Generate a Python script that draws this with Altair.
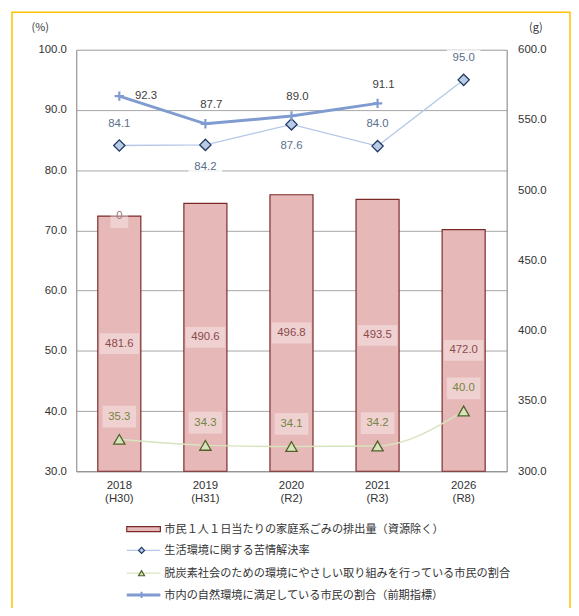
import altair as alt
import pandas as pd

# ---------------- data ----------------
years = ["2018", "2019", "2020", "2021", "2026"]
eras = ["(H30)", "(H31)", "(R2)", "(R3)", "(R8)"]
waste_g = [481.6, 490.6, 496.8, 493.5, 472.0]          # 市民1人1日当たりの家庭系ごみの排出量 (g, right axis)
complaint_pct = [84.1, 84.2, 87.6, 84.0, 95.0]         # 生活環境に関する苦情解決率 (%)
eco_pct = [35.3, 34.3, 34.1, 34.2, 40.0]               # 脱炭素社会...市民の割合 (%)
nature_pct = [92.3, 87.7, 89.0, 91.1]                  # 市内の自然環境に満足している市民の割合 (2018-2021)
complaint_label_below = ["2019", "2020"]
stray_label = "0"
left_ticks = [30, 40, 50, 60, 70, 80, 90, 100]
right_ticks = [300, 350, 400, 450, 500, 550, 600]
legend_labels = [
    "市民１人１日当たりの家庭系ごみの排出量（資源除く）",
    "生活環境に関する苦情解決率",
    "脱炭素社会のための環境にやさしい取り組みを行っている市民の割合",
    "市内の自然環境に満足している市民の割合（前期指標）",
]

cats = [f"{y}\n{e}" for y, e in zip(years, eras)]
df = pd.DataFrame({"cat": cats, "year": years, "waste": waste_g,
                   "complaint": complaint_pct, "eco": eco_pct})
df_nat = pd.DataFrame({"cat": cats[:4], "year": years[:4], "nature": nature_pct})
one = pd.DataFrame({"k": [0]})

# ---------------- styles ----------------
W, H = 435, 426
PAD = {"left": 69, "top": 39, "right": 65, "bottom": 135}
FONT = "Noto Sans CJK JP"
NUM = "Liberation Sans"
NS = 11.5
TXT = "#333333"
BAR_FILL = "#E6B9B8"
BAR_STROKE = "#7B2A2A"
BLUE_LINE = "#B4C7E7"
BLUE_MARK = "#B8CCE4"
NAVY = "#1F3864"
GREEN_LINE = "#D7E4BD"
GREEN_DARK = "#4F6228"
NAT = "#7F9BCF"

def box_path(w, h):
    r = h / w
    return f"M-1,-{r:.3f}H1V{r:.3f}H-1Z", w * w

x_enc = alt.X("cat:N", sort=cats,
              scale=alt.Scale(paddingInner=0.5, paddingOuter=0.25),
              axis=alt.Axis(title=None, labelExpr="split(datum.label, '\\n')",
                            labelAngle=0, labelFont=NUM, labelFontSize=NS,
                            labelColor=TXT, labelPadding=8, labelLineHeight=13.5,
                            ticks=False, tickSize=0, domainColor="#8C8C8C",
                            grid=False))

left_axis = alt.Axis(orient="left", values=left_ticks, format=".1f", title="(%)",
                     titleAngle=0, titleX=-37, titleY=-22, titleAlign="center",
                     titleBaseline="middle", titleFontWeight="normal",
                     titleFontSize=11, titleColor=TXT, titleFont=FONT,
                     grid=True, gridColor="#A6A6A6", domainColor="#8C8C8C",
                     ticks=False, tickSize=0, labelPadding=10, labelFontSize=NS,
                     labelColor=TXT, labelFont=NUM)
right_axis = alt.Axis(orient="right", values=right_ticks, format=".1f", title="(g)",
                      titleAngle=0, titleX=29, titleY=-22, titleAlign="center",
                      titleBaseline="middle", titleFontWeight="normal",
                      titleFontSize=11, titleColor=TXT, titleFont=FONT,
                      grid=False, domainColor="#8C8C8C",
                      ticks=False, tickSize=0, labelPadding=11, labelFontSize=NS,
                      labelColor=TXT, labelFont=NUM)

lsc = alt.Scale(domain=[30, 100])
rsc = alt.Scale(domain=[300, 600])

def ly(field):
    return alt.Y(f"{field}:Q", scale=lsc, axis=left_axis)

def ry(field):
    return alt.Y(f"{field}:Q", scale=rsc, axis=right_axis)

# ---------------- right-axis group (bars) ----------------
base_r = alt.Chart(df)
bars = base_r.mark_bar(fill=BAR_FILL, stroke=BAR_STROKE, strokeWidth=1.2).encode(
    x=x_enc, y=ry("waste"), y2=alt.datum(300))
mid = base_r.transform_calculate(mid="(datum.waste + 300) / 2")
p, s = box_path(40, 21)
bar_box = mid.mark_point(shape=p, size=s, filled=True, fill="white", opacity=0.35,
                         strokeWidth=0).encode(x=x_enc, y=ry("mid"))
bar_txt = mid.mark_text(font=NUM, fontSize=NS, color="#8B4A4A").encode(
    x=x_enc, y=ry("mid"), text=alt.Text("waste:Q", format=".1f"))
first = alt.Chart(df.iloc[[0]])
p0, s0 = box_path(18, 24)
stray_box = first.mark_point(shape=p0, size=s0, filled=True, fill="white", opacity=0.35,
                             strokeWidth=0).encode(x=x_enc, y=ry("waste"))
stray_txt = first.mark_text(font=NUM, fontSize=NS, color="#9A7A7A").encode(
    x=x_enc, y=ry("waste"), text=alt.value(stray_label))
right_group = alt.layer(bars, bar_box, bar_txt, stray_box, stray_txt)

# ---------------- left-axis group (lines) ----------------
base = alt.Chart(df)
eco_line = base.mark_line(color=GREEN_LINE, strokeWidth=1.5, interpolate="monotone").encode(
    x=x_enc, y=ly("eco"))
eco_pts = base.mark_point(shape="triangle-up", filled=True, fill=GREEN_LINE, stroke=GREEN_DARK,
                          strokeWidth=1.3, size=130, opacity=1).encode(x=x_enc, y=ly("eco"))
pg, sg = box_path(34, 22)
eco_box = base.mark_point(shape=pg, size=sg, filled=True, fill="white", opacity=0.35,
                          strokeWidth=0, yOffset=-23).encode(x=x_enc, y=ly("eco"))
eco_txt = base.mark_text(font=NUM, fontSize=NS, color="#76853F", dy=-23).encode(
    x=x_enc, y=ly("eco"), text=alt.Text("eco:Q", format=".1f"))

comp_line = base.mark_line(color=BLUE_LINE, strokeWidth=1.3).encode(x=x_enc, y=ly("complaint"))
comp_pts = base.mark_point(shape="diamond", filled=True, fill=BLUE_MARK, stroke=NAVY,
                           strokeWidth=1.3, size=130, opacity=1).encode(x=x_enc, y=ly("complaint"))
is_below = alt.FieldOneOfPredicate(field="year", oneOf=complaint_label_below)
pb, sb = box_path(34, 17)
comp_box_up = base.transform_filter(~is_below).mark_point(
    shape=pb, size=sb, filled=True, fill="white", opacity=0.8, strokeWidth=0, yOffset=-22
).encode(x=x_enc, y=ly("complaint"))
comp_txt_up = base.transform_filter(~is_below).mark_text(
    font=NUM, fontSize=NS, color="#5A6E8C", dy=-22
).encode(x=x_enc, y=ly("complaint"), text=alt.Text("complaint:Q", format=".1f"))
comp_box_dn = base.transform_filter(is_below).mark_point(
    shape=pb, size=sb, filled=True, fill="white", opacity=0.8, strokeWidth=0, yOffset=22
).encode(x=x_enc, y=ly("complaint"))
comp_txt_dn = base.transform_filter(is_below).mark_text(
    font=NUM, fontSize=NS, color="#5A6E8C", dy=22
).encode(x=x_enc, y=ly("complaint"), text=alt.Text("complaint:Q", format=".1f"))

nat = alt.Chart(df_nat)
nat_line = nat.mark_line(color=NAT, strokeWidth=3).encode(x=x_enc, y=ly("nature"))
nat_pts = nat.mark_point(shape="M-1,0H1M0,-1V1", filled=False, stroke=NAT, strokeWidth=2.2,
                         size=90, opacity=1).encode(x=x_enc, y=ly("nature"))
is_first = alt.FieldEqualPredicate(field="year", equal=years[0])
nat_txt_r = nat.transform_filter(is_first).mark_text(
    font=NUM, fontSize=NS, color="#404040", dx=27, dy=0
).encode(x=x_enc, y=ly("nature"), text=alt.Text("nature:Q", format=".1f"))
nat_txt_up = nat.transform_filter(~is_first).mark_text(
    font=NUM, fontSize=NS, color="#404040", dx=6, dy=-19
).encode(x=x_enc, y=ly("nature"), text=alt.Text("nature:Q", format=".1f"))

# ---------------- legend (drawn below the plot) ----------------
o = alt.Chart(one)
LY = [485, 507, 530, 552]
leg = [
    o.mark_rect(fill=BAR_FILL, stroke=BAR_STROKE, strokeWidth=1.2).encode(
        x=alt.value(51), x2=alt.value(85), y=alt.value(LY[0] - 3), y2=alt.value(LY[0] + 2)),
    o.mark_rule(color=BLUE_LINE, strokeWidth=1.3).encode(
        x=alt.value(51), x2=alt.value(85), y=alt.value(LY[1] - 1)),
    o.mark_point(shape="diamond", filled=True, fill=BLUE_MARK, stroke=NAVY, strokeWidth=1.2,
                 size=36, opacity=1).encode(x=alt.value(66), y=alt.value(LY[1] - 1)),
    o.mark_rule(color=GREEN_LINE, strokeWidth=1.3).encode(
        x=alt.value(51), x2=alt.value(85), y=alt.value(LY[2] - 1)),
    o.mark_point(shape="triangle-up", filled=True, fill=GREEN_LINE, stroke=GREEN_DARK,
                 strokeWidth=1.2, size=36, opacity=1).encode(x=alt.value(66), y=alt.value(LY[2] - 1)),
    o.mark_rule(color=NAT, strokeWidth=3).encode(
        x=alt.value(51), x2=alt.value(85), y=alt.value(LY[3] - 1)),
    o.mark_point(shape="M-1,0H1M0,-1V1", filled=False, stroke=NAT, strokeWidth=2,
                 size=40, opacity=1).encode(x=alt.value(66), y=alt.value(LY[3] - 1)),
]
for i, lab in enumerate(legend_labels):
    leg.append(o.mark_text(font=FONT, fontSize=11.3, color=TXT, align="left",
                           baseline="middle").encode(
        x=alt.value(89), y=alt.value(LY[i]), text=alt.value(lab)))

frame = o.mark_rect(fillOpacity=0, stroke="#FFC000", strokeWidth=1.5).encode(
    x=alt.value(-65), x2=alt.value(W + PAD["right"] - 1),
    y=alt.value(-38), y2=alt.value(H + PAD["bottom"] + 20))

left_group = alt.layer(eco_line, eco_box, eco_pts, eco_txt,
                       comp_line, comp_pts, comp_box_up, comp_txt_up, comp_box_dn, comp_txt_dn,
                       nat_line, nat_pts, nat_txt_r, nat_txt_up, *leg, frame)

chart = alt.layer(right_group, left_group).resolve_scale(y="independent").properties(
    width=W, height=H, padding=PAD,
    autosize=alt.AutoSizeParams(type="none"),
).configure_view(stroke=None).configure(background="white")

chart.save("out.html", embed_options={"renderer": "svg", "actions": False})
